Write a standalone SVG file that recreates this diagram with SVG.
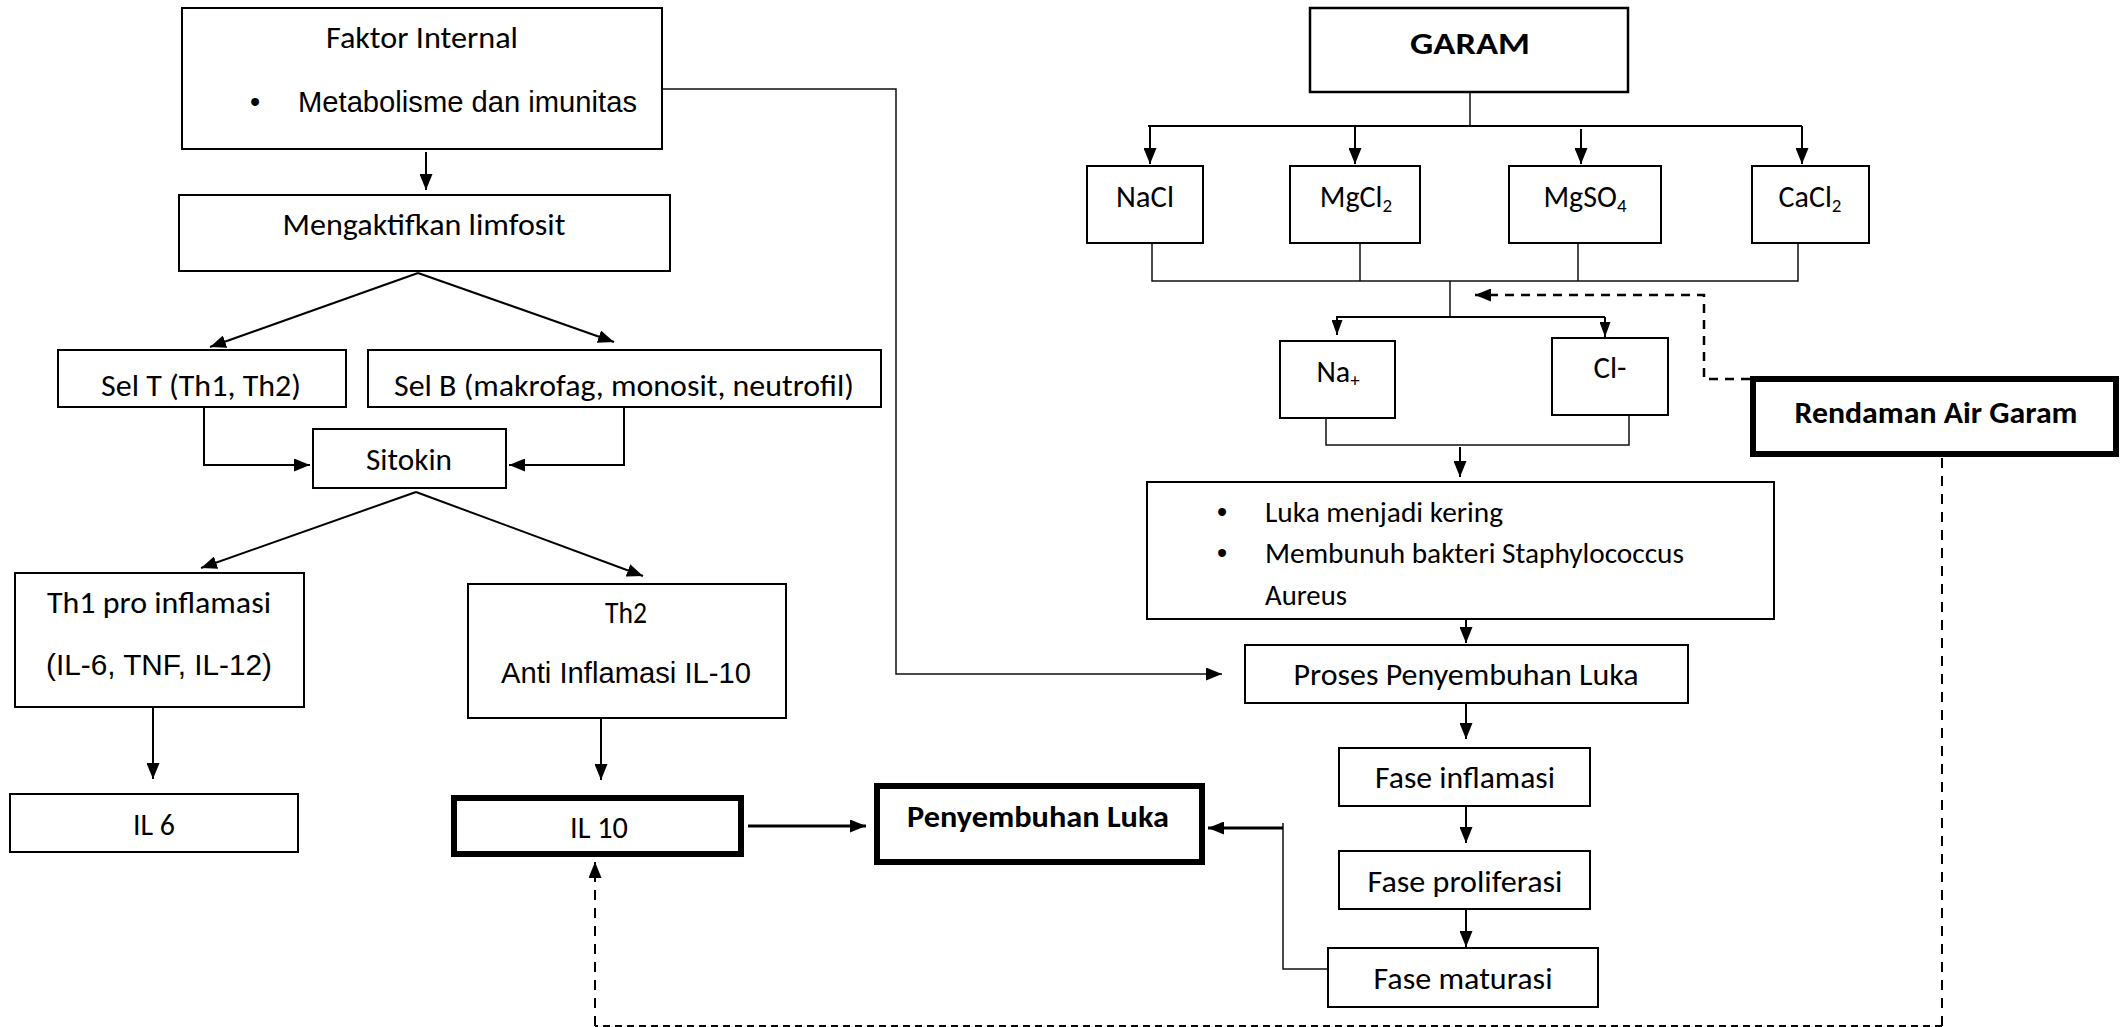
<svg xmlns="http://www.w3.org/2000/svg" width="2120" height="1027" viewBox="0 0 2120 1027">
<defs>
<style>
.box{fill:#fff;stroke:#000;stroke-width:2}
.gb{stroke-width:2.5}
.thick{fill:#fff;stroke:#000;stroke-width:6}
.c{font-family:Carlito,Lato,sans-serif;font-size:30px;fill:#000}
.s{font-size:28px}
.a{font-family:"Liberation Sans",Arial,sans-serif;font-size:29px;fill:#000}
.b{font-weight:bold}
.m{text-anchor:middle}
.ln{fill:none;stroke:#000;stroke-width:2}
.th{fill:none;stroke:#111;stroke-width:1.5}
.tk{fill:none;stroke:#000;stroke-width:3}
.d1{fill:none;stroke:#000;stroke-width:2.5;stroke-dasharray:9 7}
.d2{fill:none;stroke:#000;stroke-width:2;stroke-dasharray:10 8}
.d3{fill:none;stroke:#000;stroke-width:2;stroke-dasharray:7 5}
</style>
<marker id="ah" viewBox="0 0 16 13" markerWidth="16" markerHeight="13" refX="16" refY="6.5" orient="auto" markerUnits="userSpaceOnUse">
<path d="M0,0 L16,6.5 L0,13 z" fill="#000"/>
</marker>
<marker id="as" viewBox="0 0 15 11" markerWidth="15" markerHeight="11" refX="15" refY="5.5" orient="auto" markerUnits="userSpaceOnUse">
<path d="M0,0 L15,5.5 L0,11 z" fill="#000"/>
</marker>
</defs>
<rect width="2120" height="1027" fill="#fff"/>

<g id="connectors">
<line class="ln" x1="426" y1="152" x2="426" y2="190" marker-end="url(#ah)"/>
<line class="ln" x1="418" y1="273" x2="210" y2="347" marker-end="url(#ah)"/>
<line class="ln" x1="418" y1="273" x2="614" y2="342" marker-end="url(#ah)"/>
<polyline class="ln" points="204,407 204,465 310,465" marker-end="url(#ah)"/>
<polyline class="ln" points="624,407 624,465 509,465" marker-end="url(#ah)"/>
<line class="ln" x1="416" y1="492" x2="201" y2="568" marker-end="url(#ah)"/>
<line class="ln" x1="416" y1="492" x2="643" y2="576" marker-end="url(#ah)"/>
<line class="ln" x1="153" y1="707" x2="153" y2="779" marker-end="url(#ah)"/>
<line class="ln" x1="601" y1="718" x2="601" y2="780" marker-end="url(#ah)"/>
<line class="tk" x1="748" y1="826" x2="866" y2="826" marker-end="url(#ah)"/>
<polyline class="th" points="662,89 896,89 896,674 1222,674" marker-end="url(#ah)"/>
<line class="th" x1="1470" y1="92" x2="1470" y2="126"/>
<line class="ln" x1="1148" y1="126" x2="1802" y2="126"/>
<line class="ln" x1="1150" y1="126" x2="1150" y2="164" marker-end="url(#ah)"/>
<line class="ln" x1="1355" y1="126" x2="1355" y2="164" marker-end="url(#ah)"/>
<line class="ln" x1="1581" y1="129" x2="1581" y2="164" marker-end="url(#ah)"/>
<line class="ln" x1="1802" y1="126" x2="1802" y2="164" marker-end="url(#ah)"/>
<polyline class="th" points="1152,243 1152,281 1798,281 1798,243"/>
<line class="th" x1="1360" y1="243" x2="1360" y2="281"/>
<line class="th" x1="1578" y1="243" x2="1578" y2="281"/>
<line class="th" x1="1450" y1="281" x2="1450" y2="317"/>
<line class="ln" x1="1336" y1="317" x2="1605" y2="317"/>
<line class="ln" x1="1337" y1="317" x2="1337" y2="335" marker-end="url(#as)"/>
<line class="ln" x1="1605" y1="317" x2="1605" y2="337" marker-end="url(#as)"/>
<polyline class="th" points="1326,418 1326,445 1629,445 1629,415"/>
<line class="ln" x1="1460" y1="447" x2="1460" y2="477" marker-end="url(#ah)"/>
<line class="ln" x1="1466" y1="614" x2="1466" y2="643" marker-end="url(#ah)"/>
<line class="ln" x1="1466" y1="703" x2="1466" y2="739" marker-end="url(#ah)"/>
<line class="ln" x1="1466" y1="806" x2="1466" y2="843" marker-end="url(#ah)"/>
<line class="ln" x1="1466" y1="909" x2="1466" y2="947" marker-end="url(#ah)"/>
<polyline class="th" points="1329,969 1283,969 1283,823"/>
<line class="tk" x1="1283" y1="828" x2="1208" y2="828" marker-end="url(#ah)"/>
<polyline class="d1" points="1750,379 1704,379 1704,295 1475,295" marker-end="url(#ah)"/>
<line class="d2" x1="1942" y1="458" x2="1942" y2="1026" stroke-width="1.5"/>
<line class="d3" x1="1942" y1="1026" x2="595" y2="1026"/>
<line class="d2" x1="595" y1="1026" x2="595" y2="862" marker-end="url(#ah)"/>
</g>

<g id="faktor-internal">
<rect class="box" x="182" y="8" width="480" height="141"/>
<text class="c m" x="422" y="48" textLength="192" lengthAdjust="spacingAndGlyphs">Faktor Internal</text>
<text class="a" x="250" y="112">•</text>
<text class="a" x="298" y="112" textLength="339" lengthAdjust="spacingAndGlyphs">Metabolisme dan imunitas</text>
</g>
<g id="mengaktifkan">
<rect class="box" x="179" y="195" width="491" height="76"/>
<text class="c m" x="424" y="235" textLength="283" lengthAdjust="spacingAndGlyphs">Mengaktifkan limfosit</text>
</g>
<g id="sel-t">
<rect class="box" x="58" y="350" width="288" height="57"/>
<text class="c m" x="201" y="396" textLength="200" lengthAdjust="spacingAndGlyphs">Sel T (Th1, Th2)</text>
</g>
<g id="sel-b">
<rect class="box" x="368" y="350" width="513" height="57"/>
<text class="c" x="394" y="396" textLength="460" lengthAdjust="spacingAndGlyphs">Sel B (makrofag, monosit, neutrofil)</text>
</g>
<g id="sitokin">
<rect class="box" x="313" y="429" width="193" height="59"/>
<text class="c m" x="409" y="470" textLength="86" lengthAdjust="spacingAndGlyphs">Sitokin</text>
</g>
<g id="th1">
<rect class="box" x="15" y="573" width="289" height="134"/>
<text class="c m" x="159" y="613" textLength="224" lengthAdjust="spacingAndGlyphs">Th1 pro inflamasi</text>
<text class="a m" x="159" y="675" textLength="226" lengthAdjust="spacingAndGlyphs">(IL-6, TNF, IL-12)</text>
</g>
<g id="th2">
<rect class="box" x="468" y="584" width="318" height="134"/>
<text class="c m" x="626" y="623" textLength="42" lengthAdjust="spacingAndGlyphs">Th2</text>
<text class="a m" x="626" y="683" textLength="250" lengthAdjust="spacingAndGlyphs">Anti Inflamasi IL-10</text>
</g>
<g id="il6">
<rect class="box" x="10" y="794" width="288" height="58"/>
<text class="c m" x="154" y="835" textLength="42" lengthAdjust="spacingAndGlyphs">IL 6</text>
</g>
<g id="il10">
<rect class="thick" x="454" y="798" width="287" height="56"/>
<text class="c m" x="599" y="838" textLength="58" lengthAdjust="spacingAndGlyphs">IL 10</text>
</g>
<g id="penyembuhan-luka">
<rect class="thick" x="877" y="786" width="325" height="76"/>
<text class="c b m" x="1038" y="827" textLength="262" lengthAdjust="spacingAndGlyphs">Penyembuhan Luka</text>
</g>
<g id="garam">
<rect class="box gb" x="1310" y="8" width="318" height="84"/>
<text class="c b m" x="1470" y="54" font-size="31" textLength="120" lengthAdjust="spacingAndGlyphs">GARAM</text>
</g>
<g id="nacl">
<rect class="box" x="1087" y="166" width="116" height="77"/>
<text class="c m" x="1145" y="207" textLength="58" lengthAdjust="spacingAndGlyphs">NaCl</text>
</g>
<g id="mgcl2">
<rect class="box" x="1290" y="166" width="130" height="77"/>
<text class="c m" x="1356" y="207">MgCl<tspan font-size="19" dy="5">2</tspan></text>
</g>
<g id="mgso4">
<rect class="box" x="1509" y="166" width="152" height="77"/>
<text class="c m" x="1585" y="207">MgSO<tspan font-size="19" dy="5">4</tspan></text>
</g>
<g id="cacl2">
<rect class="box" x="1752" y="166" width="117" height="77"/>
<text class="c m" x="1810" y="207">CaCl<tspan font-size="19" dy="5">2</tspan></text>
</g>
<g id="na">
<rect class="box" x="1280" y="341" width="115" height="77"/>
<text class="c m" x="1338" y="382">Na<tspan font-size="19" dy="5">+</tspan></text>
</g>
<g id="cl">
<rect class="box" x="1552" y="338" width="116" height="77"/>
<text class="c m" x="1610" y="378" textLength="33" lengthAdjust="spacingAndGlyphs">Cl-</text>
</g>
<g id="rendaman">
<rect class="thick" x="1753" y="379" width="363" height="75"/>
<text class="c b m" x="1936" y="423" textLength="283" lengthAdjust="spacingAndGlyphs">Rendaman Air Garam</text>
</g>
<g id="efek-garam">
<rect class="box" x="1147" y="482" width="627" height="137"/>
<text class="a" x="1217" y="522">•</text>
<text class="c s" x="1265" y="522" textLength="238" lengthAdjust="spacingAndGlyphs">Luka menjadi kering</text>
<text class="a" x="1217" y="563">•</text>
<text class="c s" x="1265" y="563" textLength="419" lengthAdjust="spacingAndGlyphs">Membunuh bakteri Staphylococcus</text>
<text class="c s" x="1265" y="605" textLength="82" lengthAdjust="spacingAndGlyphs">Aureus</text>
</g>
<g id="proses">
<rect class="box" x="1245" y="645" width="443" height="58"/>
<text class="c m" x="1466" y="685" textLength="345" lengthAdjust="spacingAndGlyphs">Proses Penyembuhan Luka</text>
</g>
<g id="fase-inflamasi">
<rect class="box" x="1339" y="748" width="251" height="58"/>
<text class="c m" x="1465" y="788" textLength="180" lengthAdjust="spacingAndGlyphs">Fase inflamasi</text>
</g>
<g id="fase-proliferasi">
<rect class="box" x="1339" y="851" width="251" height="58"/>
<text class="c m" x="1465" y="892" textLength="195" lengthAdjust="spacingAndGlyphs">Fase proliferasi</text>
</g>
<g id="fase-maturasi">
<rect class="box" x="1328" y="948" width="270" height="59"/>
<text class="c m" x="1463" y="989" textLength="179" lengthAdjust="spacingAndGlyphs">Fase maturasi</text>
</g>
</svg>
